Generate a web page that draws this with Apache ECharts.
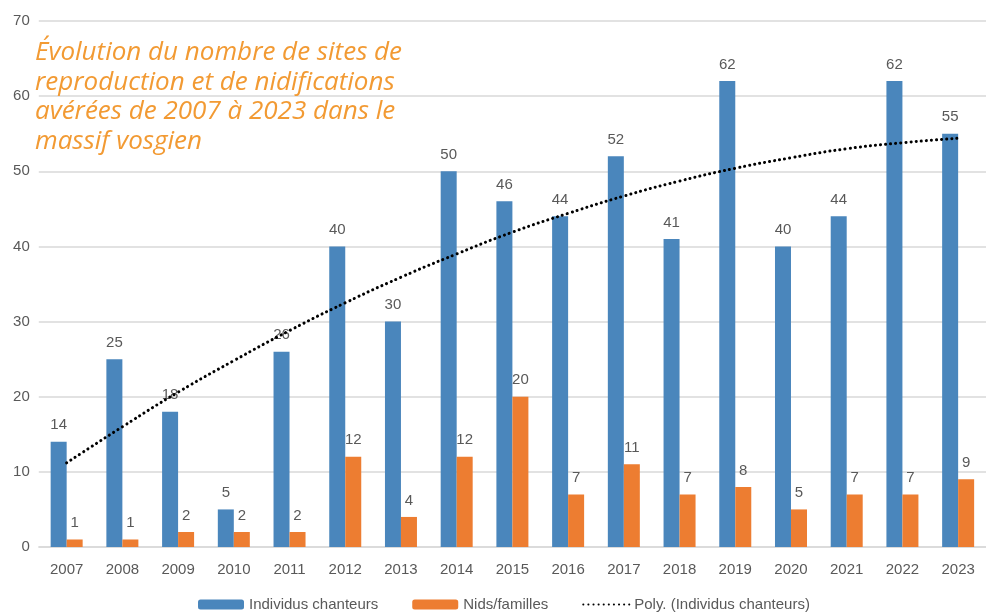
<!DOCTYPE html>
<html><head><meta charset="utf-8">
<script src="https://cdn.jsdelivr.net/npm/echarts@6/dist/echarts.min.js"></script>
<style>html,body{margin:0;padding:0;background:#fff}#c{width:986px;height:613px}</style>
</head><body><div id="c"></div>
<script>
var years = ['2007','2008','2009','2010','2011','2012','2013','2014','2015','2016','2017','2018','2019','2020','2021','2022','2023'];
var chanteurs = [14,25,18,5,26,40,30,50,46,44,52,41,62,40,44,62,55];
var nids = [1,1,2,2,2,12,4,12,20,7,11,7,8,5,7,7,9];
// trend line values
var poly = [11.2,16.0,20.6,24.8,28.8,32.5,35.9,39.0,41.9,44.4,46.7,48.7,50.4,51.8,53.0,53.8,54.4];
var yTicks = {min:0, max:70, interval:10};
var titleText = 'Évolution du nombre de sites de\nreproduction et de nidifications\navérées de 2007 à 2023 dans le\nmassif vosgien';

var txt = '#595959', font = 'Liberation Sans';
var chart = echarts.init(document.getElementById('c'));
chart.setOption({
  animation:false,
  textStyle:{fontFamily:font},
  title:{text:titleText, left:30, top:33,
    textStyle:{color:'#F29A33', fontStyle:'italic', fontWeight:'normal', fontSize:26, lineHeight:29.5, fontFamily:'Open Sans'}},
  grid:{left:38.8, right:-10, top:21, bottom:66, containLabel:false},
  legend:{left:193, top:592, itemWidth:46, itemHeight:10, itemGap:34,
    textStyle:{color:txt, fontSize:15, fontFamily:font},
    data:['Individus chanteurs','Nids/familles',
      {name:'Poly. (Individus chanteurs)', itemStyle:{color:'rgba(0,0,0,0)', borderWidth:0}}]},
  xAxis:{type:'category', data:years,
    axisLine:{lineStyle:{color:'#D9D9D9', width:1.5}}, axisTick:{show:false},
    axisLabel:{color:txt, fontSize:15, margin:15}},
  yAxis:{type:'value', min:yTicks.min, max:yTicks.max, interval:yTicks.interval,
    axisLine:{show:false}, axisTick:{show:false},
    axisLabel:{color:txt, fontSize:15, margin:9},
    splitLine:{lineStyle:{color:'#D9D9D9', width:1.5}}},
  series:[
    {name:'Individus chanteurs', type:'bar', data:chanteurs, barWidth:16, barGap:'0%',
      itemStyle:{color:'#4A86BC'},
      label:{show:true, position:'top', distance:9, color:txt, fontSize:15}},
    {name:'Nids/familles', type:'bar', data:nids, barWidth:16, barGap:'0%',
      itemStyle:{color:'#ED7D31'},
      label:{show:true, position:'top', distance:9, color:txt, fontSize:15}},
    {name:'Poly. (Individus chanteurs)', type:'line', data:poly, symbol:'none', smooth:true, z:5,
      lineStyle:{color:'#000', width:3, type:[0.1,5], cap:'round'}, itemStyle:{color:'#000'}}
  ]
});
</script></body></html>
